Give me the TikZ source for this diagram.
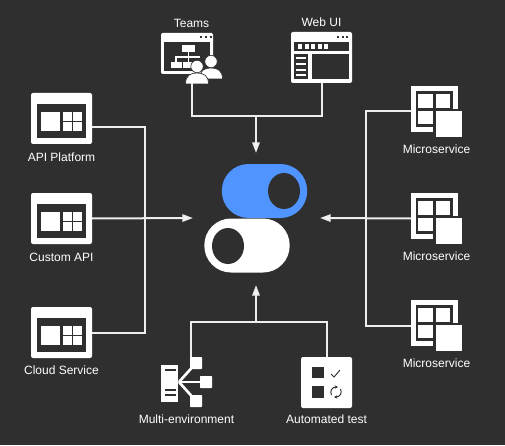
\documentclass[tikz,border=0pt]{standalone}
\usepackage{fontspec}
\setmainfont{Liberation Sans}
\usetikzlibrary{arrows.meta}
\usetikzlibrary{shapes.geometric}
\definecolor{panelbg}{HTML}{2F2F2F}
\definecolor{togglecol}{HTML}{4F94FF}
\definecolor{wirecol}{HTML}{EDEDED}
\tikzset{
    iconbox/.style={rectangle,fill=white,rounded corners=1.5pt,inner sep=0pt,outer sep=0pt,minimum width=45.75pt,minimum height=38.25pt},
    blankbox/.style={rectangle,inner sep=0pt,outer sep=0pt,minimum width=45.75pt,minimum height=38.25pt},
    squarebox/.style={rectangle,inner sep=0pt,outer sep=0pt,minimum size=38.25pt},
    togglebox/.style={rectangle,rounded corners=20pt,inner sep=0pt,outer sep=0pt,minimum width=64pt,minimum height=40.5pt},
    togglehole/.style={ellipse,fill=panelbg,inner sep=0pt,minimum width=24pt,minimum height=27pt},
    caption/.style={text=white,font=\fontsize{9}{11}\selectfont,inner sep=0pt},
    wire/.style={draw=wirecol,line width=1.5pt},
    flow/.style={wire,-{Triangle[length=8pt,width=5.5pt,fill=white]}},
    person/.style={fill=white,draw=panelbg,line width=0.5pt},
    refresh/.style={panelbg,line width=0.7pt,-{Stealth[length=2.5pt,width=2.5pt]}},
    % panel with one large and four small squares
    apppanel/.pic={
        \fill[panelbg] (6,11) rectangle (55,45);
        \fill[white] (10,19) rectangle (29,38);
        \fill[white] (32.3,19) rectangle (41.3,28);
        \fill[white] (42.3,19) rectangle (50.7,28);
        \fill[white] (32.3,29) rectangle (41.3,38);
        \fill[white] (42.3,29) rectangle (50.7,38);
    },
    % frame of cells with one large square over its corner
    servicepanel/.pic={
        \fill[white] (0,0) rectangle (47,46);
        \fill[panelbg] (5,5) rectangle (42,41);
        \fill[white] (7,8) rectangle (22,22);
        \fill[white] (25,8) rectangle (39,22);
        \fill[white] (7,25) rectangle (22,38);
        \fill[panelbg] (22,23) rectangle (51,51);
        \fill[white] (25,25) rectangle (51,51);
    }
}

\begin{document}
\begin{tikzpicture}[x=0.75pt,y=-0.75pt]
    \useasboundingbox (0,0) rectangle (505,445);
    \fill[panelbg] (0,0) rectangle (505,445);

    % Toggles
    \node[togglebox,fill=togglecol] (bluetoggle) at (264.5,191) {};
    \node[togglehole] (bluehole) at (284,191) {};
    \node[togglebox,fill=white] (whitetoggle) at (247,245.5) {};
    \node[togglehole] (whitehole) at (228,246) {};

    % Left icons
    \node[iconbox] (apiplatform) at (61.5,118.5) {};
    \pic at (apiplatform.north west) {apppanel};
    \node[caption] (apilabel) at (61.5,157) {API Platform};
    \node[iconbox] (customapi) at (61.5,218.5) {};
    \pic at (customapi.north west) {apppanel};
    \node[caption] (customlabel) at (61.5,257) {Custom API};
    \node[iconbox] (cloudservice) at (61.5,332.5) {};
    \pic at (cloudservice.north west) {apppanel};
    \node[caption] (cloudlabel) at (61.5,370) {Cloud Service};

    % Right icons
    \node[squarebox] (serviceone) at (436.5,111.5) {};
    \pic at (serviceone.north west) {servicepanel};
    \node[caption] (serviceonelabel) at (436.5,149.5) {Microservice};
    \node[squarebox] (servicetwo) at (436.5,218.5) {};
    \pic at (servicetwo.north west) {servicepanel};
    \node[caption] (servicetwolabel) at (436.5,256.5) {Microservice};
    \node[squarebox] (servicethree) at (436.5,325.5) {};
    \pic at (servicethree.north west) {servicepanel};
    \node[caption] (servicethreelabel) at (436.5,363.5) {Microservice};

    % Teams
    \node[blankbox] (teams) at (191.5,57.5) {};
    \node[caption] (teamslabel) at (191.5,23) {Teams};
    \fill[white,rounded corners=1pt] (161,33) rectangle (213,74);
    \fill[panelbg] (164,42) rectangle (210,71);
    \foreach \dotx in {201,206,211} \fill[panelbg] (\dotx-1,36) rectangle (\dotx+1,38);
    \fill[white] (182,45) rectangle (195,52);
    \fill[white] (187.7,52) rectangle (189.3,62);
    \fill[white] (176,56.2) rectangle (200,57.8);
    \fill[white] (175.2,56.2) rectangle (176.8,62);
    \fill[white] (171,62) rectangle (182,68);
    \fill[white] (183,62) rectangle (194,68);
    \path[person] (199.5,79) .. controls (199.5,70) and (205,68) .. (211,68) .. controls (217,68) and (222.5,70) .. (222.5,79) -- cycle;
    \path[person] (211,61.5) circle [radius=6.2];
    \path[person] (185.5,84) .. controls (185.5,75) and (191,73) .. (197,73) .. controls (203,73) and (208.5,75) .. (208.5,84) -- cycle;
    \path[person] (197,66.5) circle [radius=6.2];

    % Web UI
    \node[iconbox] (webui) at (321.5,57.5) {};
    \node[caption] (webuilabel) at (321.5,22.5) {Web UI};
    \fill[panelbg] (294,42) rectangle (349,51);
    \fill[panelbg] (294,54) rectangle (308,79);
    \fill[panelbg] (312,54) rectangle (349,79);
    \foreach \dotx in {338,343,347} \fill[panelbg] (\dotx-1,36) rectangle (\dotx+1,38);
    \foreach \cellx in {300,306.5,313,319.5,326} \fill[white] (\cellx-2,44) rectangle (\cellx+2,49);
    \foreach \rowy in {58,64,70,75} \fill[white] (296,\rowy-1) rectangle (306,\rowy+1);

    % Multi-environment
    \node[squarebox] (multienv) at (186.5,382.5) {};
    \node[caption] (multilabel) at (186.5,419) {Multi-environment};
    \draw[white,line width=2pt] (179,382) -- (196,363);
    \draw[white,line width=2pt] (179,382) -- (206,382);
    \draw[white,line width=2pt] (179,382) -- (196,401);
    \fill[white] (161,365) rectangle (178,402);
    \fill[white] (178,382) -- (172,376) -- (172,388) -- cycle;
    \foreach \liney in {370,390,395} \fill[panelbg] (165,\liney-0.8) rectangle (176,\liney+0.8);
    \fill[white,rounded corners=0.5pt] (190,357) rectangle (202,369);
    \fill[white,rounded corners=0.5pt] (200,376) rectangle (212,388);
    \fill[white,rounded corners=0.5pt] (190,395) rectangle (202,407);

    % Automated test
    \node[iconbox,minimum width=38.25pt] (autotest) at (326.5,382.5) {};
    \node[caption] (autolabel) at (326.5,419) {Automated test};
    \fill[panelbg] (312,367) rectangle (324,378);
    \fill[panelbg] (312,386) rectangle (324,398);
    \draw[panelbg,line width=0.7pt] (331,374) -- (334,377) -- (340,370);
    \draw[refresh] (331.5,395) .. controls (329.5,391) and (332,387) .. (338,387);
    \draw[refresh] (340.5,389) .. controls (342.5,393) and (340,397) .. (334,397);

    % Named joints and arrow ends
    \coordinate (topjoin) at (256,116);
    \coordinate (toptip) at (256,153);
    \coordinate (leftjoin) at (145,218);
    \coordinate (lefttip) at (193,218);
    \coordinate (rightjoin) at (366,218);
    \coordinate (righttip) at (320,218);
    \coordinate (bottomjoin) at (256,322);
    \coordinate (bottomtip) at (256,285);

    % Connectors
    \draw[wire] (teams.south) |- (topjoin) -| (webui.south);
    \draw[flow] (topjoin) -- (toptip);
    \draw[wire] (apiplatform.-15) -| (leftjoin) |- (cloudservice.east);
    \draw[flow] (customapi.east) -- (lefttip);
    \draw[wire] (serviceone.west) -| (rightjoin) |- (servicethree.west);
    \draw[flow] (servicetwo.west) -- (righttip);
    \draw[wire] (multienv.80) |- (bottomjoin) -| (autotest.north);
    \draw[flow] (bottomjoin) -- (bottomtip);
\end{tikzpicture}
\end{document}
